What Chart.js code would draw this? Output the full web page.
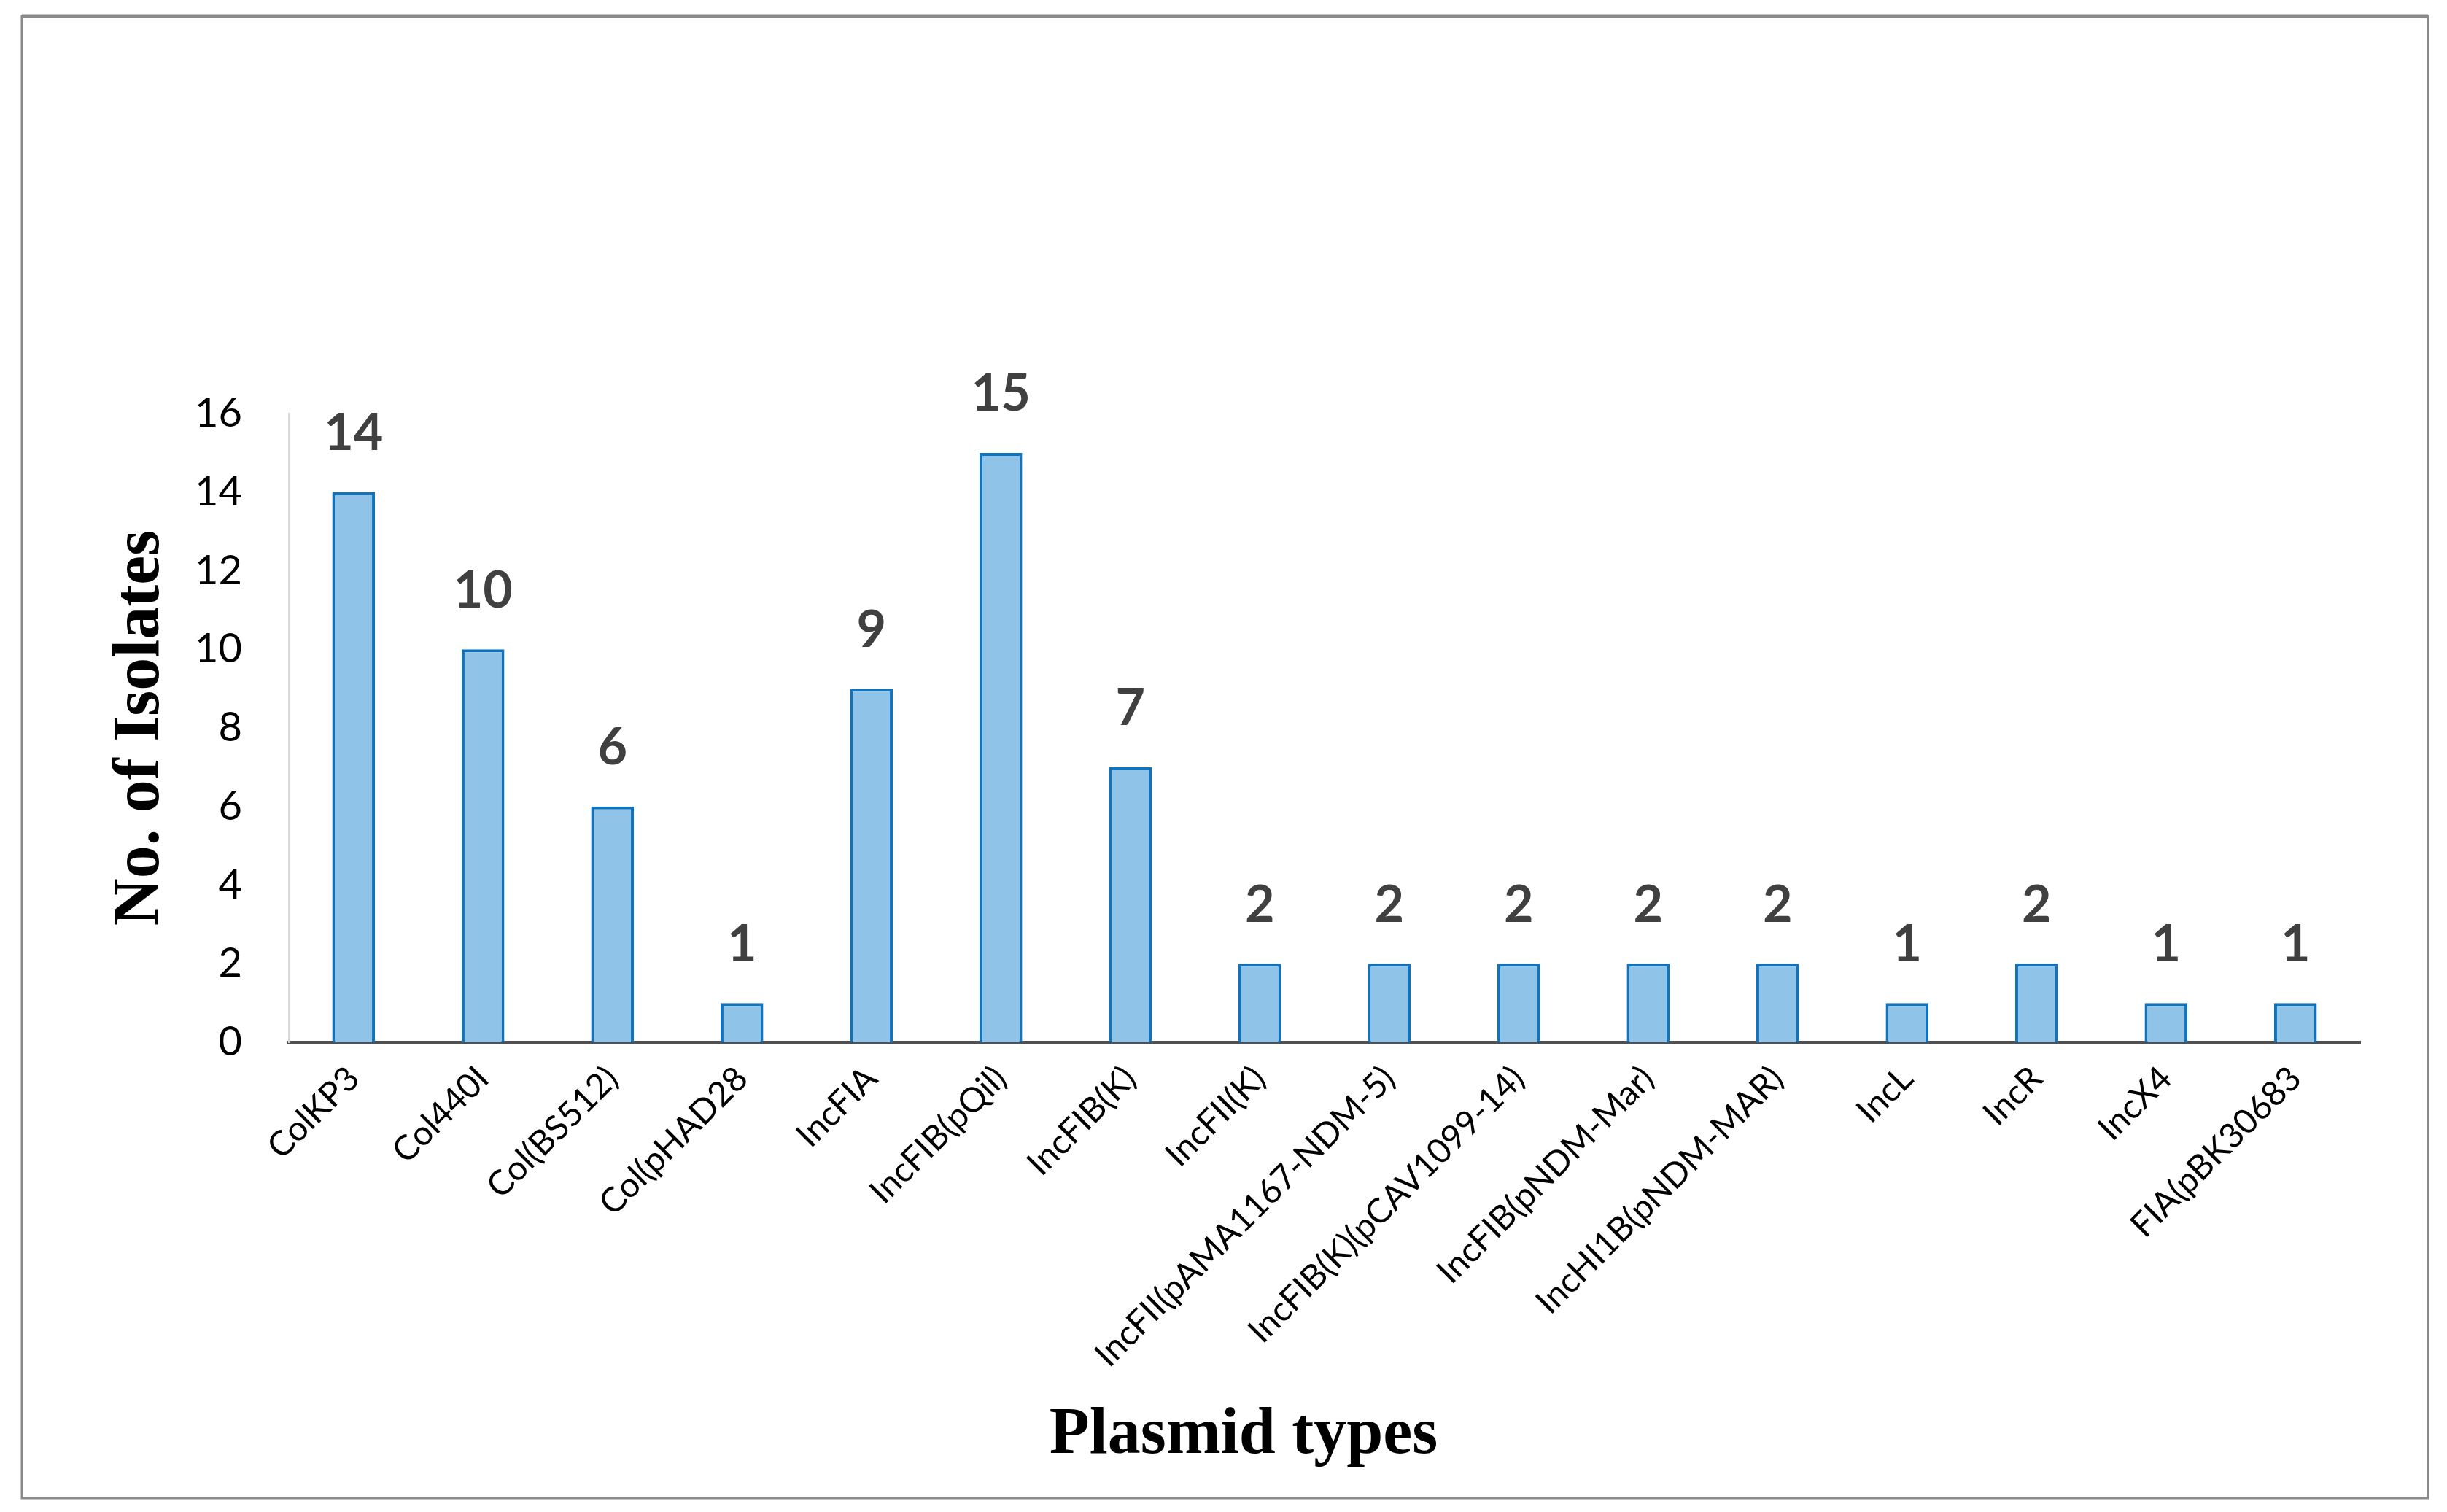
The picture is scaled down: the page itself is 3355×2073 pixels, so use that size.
<!DOCTYPE html>
<html lang="en">
<head>
    <meta charset="UTF-8">
    <title>Plasmid types</title>
    <script src="https://cdn.jsdelivr.net/npm/chart.js"></script>
    <style>
        body { margin: 0; padding: 0; background: #fff; }
        canvas { display: block; }
    </style>
</head>
<body>
    <canvas id="plasmidChart" width="3355" height="2073"></canvas>

    <script>
        // data
        const plasmidTypes = [
            'ColKP3', 'Col440I', 'Col(BS512)', 'Col(pHAD28', 'IncFIA', 'IncFIB(pQil)',
            'IncFIB(K)', 'IncFII(K)', 'IncFII(pAMA1167-NDM-5)', 'IncFIB(K)(pCAV1099-14)',
            'IncFIB(pNDM-Mar)', 'IncHI1B(pNDM-MAR)', 'IncL', 'IncR', 'IncX4', 'FIA(pBK30683'
        ];
        const isolateCounts = [14, 10, 6, 1, 9, 15, 7, 2, 2, 2, 2, 2, 1, 2, 1, 1];
        const yTicks = [0, 2, 4, 6, 8, 10, 12, 14, 16];
        const xTitle = 'Plasmid types';

        // outer frame round the whole figure
        const framePlugin = {
            id: 'frame',
            beforeDraw(chart) {
                const ctx = chart.ctx;
                ctx.save();
                ctx.fillStyle = '#ffffff';
                ctx.fillRect(0, 0, chart.width, chart.height);
                ctx.strokeStyle = '#8a8a8a';
                ctx.lineWidth = 3;
                ctx.strokeRect(30, 22, 3299, 2032);
                ctx.lineWidth = 5;
                ctx.beginPath();
                ctx.moveTo(30, 22);
                ctx.lineTo(3329, 22);
                ctx.stroke();
                ctx.restore();
            }
        };

        // value labels on top of the bars + x title (sits left of the plot centre in the original)
        const valueLabels = {
            id: 'valueLabels',
            afterDatasetsDraw(chart) {
                const ctx = chart.ctx;
                const meta = chart.getDatasetMeta(0);
                ctx.save();
                ctx.font = 'bold 70px Lato';
                ctx.fillStyle = '#404040';
                ctx.textAlign = 'center';
                ctx.textBaseline = 'middle';
                meta.data.forEach((bar, i) => {
                    ctx.fillText(String(isolateCounts[i]), bar.x, bar.y - 80);
                });
                ctx.font = 'bold 90px "Liberation Serif"';
                ctx.fillStyle = '#000';
                ctx.fillText(xTitle, 1705, 1969);
                ctx.restore();
            }
        };

        const ctx = document.getElementById('plasmidChart').getContext('2d');
        new Chart(ctx, {
            type: 'bar',
            data: {
                labels: plasmidTypes,
                datasets: [{
                    label: 'No. of Isolates',
                    data: isolateCounts,
                    backgroundColor: '#8fc4e8',
                    borderColor: '#1273bd',
                    borderWidth: 4,
                    borderSkipped: 'bottom',
                    barPercentage: 0.33,
                    categoryPercentage: 1.0
                }]
            },
            options: {
                responsive: false,
                devicePixelRatio: 1,
                animation: false,
                layout: { padding: { top: 567, right: 119, bottom: 0, left: 0 } },
                plugins: {
                    legend: { display: false },
                    tooltip: { enabled: false }
                },
                scales: {
                    x: {
                        grid: { display: false, drawTicks: false },
                        border: { display: true, color: '#505050', width: 5 },
                        ticks: {
                            color: '#000',
                            font: { family: 'Lato', size: 47 },
                            minRotation: 45,
                            maxRotation: 45,
                            autoSkip: false,
                            padding: 22
                        },
                        afterFit(scale) { scale.height = 644; }
                    },
                    y: {
                        min: 0,
                        max: 16,
                        afterBuildTicks(scale) { scale.ticks = yTicks.map(v => ({ value: v })); },
                        grid: { display: false, drawTicks: false },
                        border: { display: true, color: '#d9d9d9', width: 3 },
                        ticks: {
                            color: '#000',
                            font: { family: 'Lato', size: 56 },
                            padding: 64
                        },
                        title: {
                            display: true,
                            text: 'No. of Isolates',
                            color: '#000',
                            font: { family: 'Liberation Serif', size: 90, weight: 'bold' },
                            padding: { top: 140, bottom: 0 }
                        },
                        afterFit(scale) { scale.width = 396; }
                    }
                }
            },
            plugins: [framePlugin, valueLabels]
        });
    </script>
</body>
</html>
